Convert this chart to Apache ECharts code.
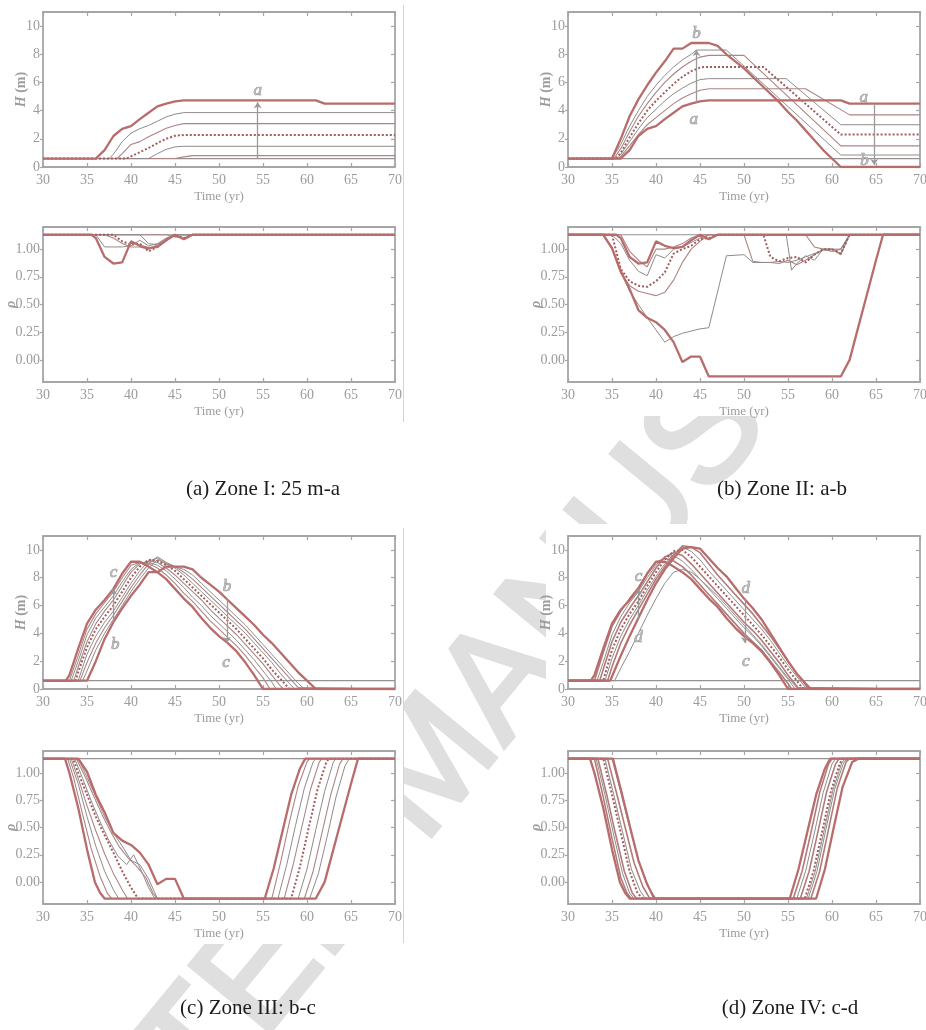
<!DOCTYPE html>
<html>
<head>
<meta charset="utf-8">
<script src="https://cdn.jsdelivr.net/npm/echarts@6/dist/echarts.min.js"></script>
<style>
html,body{margin:0;padding:0;background:#fff;}
#chart{width:926px;height:1030px;}
</style>
</head>
<body>
<div id="chart"></div>
<script>
// ---------- axis ticks ----------
const xTicks = [30, 35, 40, 45, 50, 55, 60, 65, 70];
const hTicks = [0, 2, 4, 6, 8, 10];
const rhoTicks = [0, 0.25, 0.5, 0.75, 1];

// ---------- boundary curves shared by neighbouring zones: [year, value] ----------
const hFlat = [[30,0.6],[70,0.6]];
const hA = [[30,0.6],[36,0.6],[37,1.2],[38,2.2],[39,2.7],[40,2.9],[41,3.4],[42,3.85],[43,4.3],[44,4.5],[45,4.65],[46,4.73],[61,4.73],[62,4.5],[70,4.5]];
const hB = [[30,0.6],[35,0.6],[36,2.0],[37,3.6],[38,4.8],[39,5.8],[40,6.7],[41,7.5],[42,8.4],[43,8.4],[44,8.8],[46,8.8],[47,8.6],[48,8.0],[49,7.5],[50,7.0],[51,6.4],[52,5.8],[53,5.2],[54,4.6],[55,3.9],[56,3.3],[57,2.6],[58,1.9],[59,1.2],[60,0.6],[61,0],[70,0]];
const hC = [[30,0.6],[32.6,0.6],[33,1.0],[34,2.9],[35,4.7],[36,5.7],[37,6.4],[38,7.2],[39,8.3],[40,9.15],[41,9.15],[42,8.8],[43,8.4],[44,7.9],[45,7.2],[46,6.5],[47,5.9],[48,5.1],[49,4.4],[50,3.8],[51,3.3],[52,2.7],[53,1.9],[54,1.0],[55,0],[70,0]];
const hD = [[30,0.6],[34.8,0.6],[35,0.9],[36,2.4],[37,3.8],[38,5.1],[39,6.4],[40,7.6],[41,8.6],[42,9.4],[43,10.1],[44,10.2],[45,10.1],[46,9.4],[47,8.7],[48,8.1],[49,7.3],[50,6.5],[51,5.8],[52,5.0],[53,4.0],[54,3.0],[55,2.0],[56,1.1],[57,0.4],[57.6,0],[70,0]];

const rhoFlat = [[30,1.13],[70,1.13]];
const rhoA = [[30,1.13],[35.5,1.13],[36,1.1],[37,0.93],[38,0.87],[39,0.88],[40,1.07],[41,1.03],[42,1.01],[43,1.02],[44,1.08],[45,1.13],[46,1.09],[47,1.13],[70,1.13]];
const rhoB = [[30,1.13],[34,1.13],[35,1.01],[36,0.8],[37,0.64],[38,0.45],[39,0.38],[40,0.34],[41,0.27],[42,0.16],[43,-0.02],[44,0.03],[45,0.03],[46,-0.15],[61,-0.15],[62,0.0],[63,0.3],[64,0.6],[65,0.9],[65.8,1.13],[70,1.13]];
const rhoC = [[30,1.13],[32.5,1.13],[33,1.0],[34,0.68],[35,0.3],[35.9,0.0],[36.5,-0.1],[37,-0.15],[55.2,-0.15],[56.2,0.12],[57.2,0.46],[58.2,0.8],[59.2,1.04],[59.8,1.13],[70,1.13]];
const rhoD = [[30,1.13],[35.1,1.13],[36,0.85],[37,0.52],[38,0.2],[39,-0.02],[39.8,-0.15],[58.2,-0.15],[59.2,0.12],[60.2,0.5],[61.2,0.87],[62.3,1.1],[63,1.13],[70,1.13]];

// ---------- Zone I: 25 m - a ----------
const zoneI_H = [
  hFlat,
  [[30,0.6],[45,0.6],[46,0.72],[47,0.81],[70,0.81]],
  [[30,0.6],[42,0.6],[43,0.95],[44,1.25],[45,1.43],[46,1.47],[70,1.47]],
  [[30,0.6],[38.4,0.6],[39,0.95],[40,1.6],[41,1.8],[42,2.15],[43,2.45],[44,2.75],[45,2.95],[46,3.08],[70,3.08]],
  [[30,0.6],[37.5,0.6],[38,0.9],[39,1.8],[40,2.4],[41,2.72],[42,2.95],[43,3.25],[44,3.55],[45,3.75],[46,3.86],[70,3.86]],
  [[30,0.6],[39.5,0.6],[40,0.75],[41,1.05],[42,1.35],[43,1.7],[44,2.0],[45,2.22],[46,2.27],[70,2.27]],
  hA
];
const zoneI_Rho = [
  rhoFlat,
  [[30,1.13],[44,1.13],[45,1.11],[46,1.1],[47,1.13],[70,1.13]],
  [[30,1.13],[41,1.13],[42,1.05],[43,1.04],[44,1.08],[45,1.13],[70,1.13]],
  [[30,1.13],[37,1.13],[38,1.1],[39,1.05],[40,1.02],[41,1.02],[42,1.0],[43,1.04],[44,1.09],[45,1.13],[70,1.13]],
  [[30,1.13],[36,1.13],[37,1.02],[38,1.02],[39,1.02],[40,1.03],[41,1.08],[42,1.03],[43,1.05],[44,1.1],[45,1.13],[70,1.13]],
  [[30,1.13],[38,1.13],[39,1.07],[40,1.04],[41,1.05],[42,0.98],[43,1.02],[44,1.08],[45,1.13],[46,1.1],[47,1.13],[70,1.13]],
  rhoA
];

// ---------- Zone II: a - b ----------
const zoneII_H = [
  hFlat,
  [[30,0.6],[35.8,0.6],[36,0.7],[37,1.5],[38,2.3],[39,3.0],[40,3.5],[41,4.0],[42,4.5],[43,4.9],[44,5.2],[45,5.45],[46,5.55],[57,5.55],[62,3.7],[70,3.7]],
  [[30,0.6],[35.6,0.6],[36,0.9],[37,1.8],[38,2.7],[39,3.5],[40,4.1],[41,4.7],[42,5.2],[43,5.6],[44,5.95],[45,6.2],[46,6.27],[54.8,6.27],[61,3.0],[70,3.0]],
  [[30,0.6],[35.2,0.6],[36,1.3],[37,2.5],[38,3.6],[39,4.5],[40,5.3],[41,6.0],[42,6.6],[43,7.1],[44,7.5],[45,7.8],[46,7.92],[50,7.92],[61,1.5],[70,1.5]],
  [[30,0.6],[35,0.6],[36,1.6],[37,2.9],[38,4.0],[39,5.0],[40,5.8],[41,6.5],[42,7.1],[43,7.6],[44,8.0],[44.6,8.3],[48,8.3],[61,0.85],[70,0.85]],
  [[30,0.6],[35.4,0.6],[36,1.0],[37,2.1],[38,3.1],[39,4.0],[40,4.7],[41,5.3],[42,5.9],[43,6.4],[44,6.8],[45,7.05],[45.5,7.1],[52.2,7.1],[61,2.3],[70,2.3]],
  hA,
  hB
];
const zoneII_Rho = [
  rhoFlat,
  [[30,1.13],[36,1.13],[37,0.98],[38,0.9],[39,0.84],[40,1.0],[41,1.0],[42,1.02],[43,1.05],[44,1.1],[45,1.13],[57,1.13],[58,1.02],[59,1.0],[60,0.98],[61,1.0],[62,1.13],[70,1.13]],
  [[30,1.13],[35,1.13],[36,1.05],[37,0.9],[38,0.8],[39,0.76],[40,0.95],[41,0.92],[42,1.0],[43,1.02],[44,1.06],[45,1.1],[46,1.13],[54.8,1.13],[55.4,0.81],[56,0.87],[57,0.94],[58,0.9],[59,1.0],[60,1.0],[61,0.96],[62,1.13],[70,1.13]],
  [[30,1.13],[34,1.13],[35,1.0],[36,0.78],[37,0.67],[38,0.62],[39,0.6],[40,0.58],[41,0.61],[42,0.72],[43,0.88],[44,1.0],[45,1.07],[46,1.13],[50,1.13],[51,0.89],[52,0.88],[53,0.88],[54,0.87],[55,0.9],[56,0.86],[57,0.9],[58,0.95],[59,1.0],[60,1.0],[61,0.95],[62,1.13],[70,1.13]],
  [[30,1.13],[34,1.13],[35,1.02],[36,0.8],[37,0.62],[38,0.5],[39,0.38],[40,0.27],[41,0.16],[42,0.21],[43,0.24],[44,0.26],[45,0.28],[46,0.29],[48,0.94],[50,0.95],[51,0.88],[52,0.88],[53,0.88],[54,0.89],[55,0.88],[56,0.9],[57,0.93],[58,0.96],[59,0.99],[60,1.0],[61,1.0],[62,1.13],[70,1.13]],
  [[30,1.13],[35,1.13],[36,0.82],[37,0.71],[38,0.67],[39,0.66],[40,0.71],[41,0.79],[42,0.96],[43,1.0],[44,1.03],[45,1.09],[46,1.1],[47,1.13],[52.2,1.13],[53,0.93],[54,0.89],[55,0.92],[56,0.93],[57,0.88],[58,0.95],[59,1.0],[60,1.0],[61,0.96],[62,1.13],[70,1.13]],
  rhoA,
  rhoB
];

// ---------- Zone III: b - c ----------
const zoneIII_H = [
  hFlat,
  [[30,0.6],[33,0.6],[34,2.4],[35,4.3],[36,5.4],[37,6.2],[38,7.0],[39,8.0],[40,8.9],[41,9.1],[42,9.0],[43,8.7],[44,8.2],[45,7.6],[46,6.9],[47,6.3],[48,5.6],[49,4.9],[50,4.3],[51,3.7],[52,3.1],[53,2.4],[54,1.6],[55,0.8],[55.8,0],[70,0]],
  [[30,0.6],[33.2,0.6],[34,2.0],[35,3.9],[36,5.1],[37,5.9],[38,6.7],[39,7.7],[40,8.6],[41,9.1],[42,9.1],[43,8.9],[44,8.5],[45,7.9],[46,7.3],[47,6.6],[48,6.0],[49,5.3],[50,4.7],[51,4.1],[52,3.5],[53,2.8],[54,2.1],[55,1.3],[56,0.5],[56.5,0],[70,0]],
  [[30,0.6],[33.5,0.6],[34,1.6],[35,3.4],[36,4.7],[37,5.6],[38,6.4],[39,7.4],[40,8.4],[41,9.0],[42,9.2],[43,9.1],[44,8.7],[45,8.2],[46,7.6],[47,7.0],[48,6.4],[49,5.7],[50,5.1],[51,4.5],[52,3.9],[53,3.2],[54,2.5],[55,1.8],[56,1.0],[57,0.2],[57.3,0],[70,0]],
  [[30,0.6],[34,0.6],[35,2.5],[36,3.8],[37,4.8],[38,5.6],[39,6.6],[40,7.6],[41,8.5],[42,9.2],[43,9.4],[44,9.0],[45,8.7],[46,8.2],[47,7.6],[48,7.0],[49,6.4],[50,5.8],[51,5.2],[52,4.6],[53,4.0],[54,3.3],[55,2.6],[56,1.9],[57,1.1],[58,0.4],[58.6,0],[70,0]],
  [[30,0.6],[34.2,0.6],[35,1.9],[36,3.3],[37,4.4],[38,5.3],[39,6.3],[40,7.3],[41,8.2],[42,9.0],[43,9.5],[44,9.1],[45,8.8],[46,8.4],[47,7.9],[48,7.3],[49,6.7],[50,6.1],[51,5.5],[52,4.9],[53,4.3],[54,3.6],[55,2.9],[56,2.2],[57,1.5],[58,0.8],[59,0.1],[59.2,0],[70,0]],
  [[30,0.6],[34.5,0.6],[35,1.3],[36,2.8],[37,4.0],[38,5.0],[39,6.0],[40,7.0],[41,7.9],[42,8.7],[43,9.3],[44,9.0],[45,8.8],[46,8.6],[47,8.2],[48,7.6],[49,7.0],[50,6.4],[51,5.8],[52,5.2],[53,4.6],[54,3.9],[55,3.2],[56,2.5],[57,1.8],[58,1.1],[59,0.4],[59.7,0],[70,0]],
  [[30,0.6],[33.7,0.6],[34,1.2],[35,3.0],[36,4.3],[37,5.2],[38,6.0],[39,7.0],[40,8.0],[41,8.8],[42,9.3],[43,9.2],[44,8.9],[45,8.5],[46,7.9],[47,7.3],[48,6.7],[49,6.1],[50,5.5],[51,4.9],[52,4.3],[53,3.6],[54,2.9],[55,2.2],[56,1.4],[57,0.7],[58,0],[70,0]],
  hC,
  hB
];
const zoneIII_Rho = [
  rhoFlat,
  [[30,1.13],[32.8,1.13],[33.5,0.95],[34.5,0.62],[35.5,0.3],[36.5,0.05],[37.3,-0.1],[37.8,-0.15],[56.0,-0.15],[57,0.18],[58,0.55],[59,0.88],[60,1.1],[60.3,1.13],[70,1.13]],
  [[30,1.13],[33,1.13],[34,0.9],[35,0.6],[36,0.33],[37,0.1],[38,-0.07],[38.6,-0.15],[56.7,-0.15],[57.7,0.16],[58.7,0.52],[59.7,0.86],[60.7,1.1],[61,1.13],[70,1.13]],
  [[30,1.13],[33.2,1.13],[34,0.95],[35,0.7],[36,0.47],[37,0.26],[38,0.08],[39,-0.07],[39.6,-0.15],[57.4,-0.15],[58.4,0.15],[59.4,0.5],[60.4,0.85],[61.4,1.1],[61.7,1.13],[70,1.13]],
  [[30,1.13],[33.6,1.13],[34.5,0.95],[35.5,0.74],[36.5,0.55],[37.5,0.38],[38.5,0.24],[39.5,0.16],[40.3,0.25],[41.2,0.1],[42,-0.05],[42.7,-0.15],[59,-0.15],[60,0.12],[61,0.48],[62,0.83],[63,1.1],[63.3,1.13],[70,1.13]],
  [[30,1.13],[33.8,1.13],[34.7,0.98],[35.7,0.8],[36.7,0.62],[37.7,0.46],[38.7,0.32],[39.7,0.22],[40.7,0.14],[41.7,0.04],[42.5,-0.1],[43,-0.15],[59.7,-0.15],[60.7,0.1],[61.7,0.45],[62.7,0.8],[63.7,1.08],[64.1,1.13],[70,1.13]],
  [[30,1.13],[34,1.13],[35,0.96],[36,0.78],[37,0.6],[38,0.45],[39,0.33],[40,0.2],[41,0.16],[42,0.03],[43,-0.15],[60.3,-0.15],[61.3,0.08],[62.3,0.42],[63.3,0.78],[64.3,1.06],[64.8,1.13],[70,1.13]],
  [[30,1.13],[33.4,1.13],[34,1.0],[35,0.8],[36,0.6],[37,0.43],[38,0.27],[39,0.1],[40,-0.05],[40.8,-0.15],[58.2,-0.15],[59.2,0.14],[60.2,0.5],[61.2,0.85],[62.2,1.1],[62.5,1.13],[70,1.13]],
  rhoC,
  rhoB
];

// ---------- Zone IV: c - d ----------
const zoneIV_H = [
  hFlat,
  [[30,0.6],[33,0.6],[34,2.6],[35,4.5],[36,5.6],[37,6.5],[38,7.3],[39,8.3],[40,9.1],[41,9.4],[42,9.2],[43,8.8],[44,8.2],[45,7.5],[46,6.8],[47,6.1],[48,5.4],[49,4.7],[50,4.0],[51,3.4],[52,2.8],[53,2.0],[54,1.2],[55,0.4],[55.4,0],[70,0]],
  [[30,0.6],[33.3,0.6],[34,1.9],[35,3.9],[36,5.2],[37,6.2],[38,7.0],[39,8.0],[40,8.9],[41,9.5],[42,9.6],[43,9.2],[44,8.6],[45,7.9],[46,7.2],[47,6.5],[48,5.8],[49,5.1],[50,4.4],[51,3.8],[52,3.1],[53,2.3],[54,1.5],[55,0.7],[55.8,0],[70,0]],
  [[30,0.6],[33.6,0.6],[34,1.4],[35,3.4],[36,4.8],[37,5.8],[38,6.7],[39,7.7],[40,8.7],[41,9.5],[42,9.8],[43,9.6],[44,9.0],[45,8.3],[46,7.6],[47,6.9],[48,6.2],[49,5.5],[50,4.8],[51,4.2],[52,3.5],[53,2.7],[54,1.9],[55,1.0],[56,0.2],[56.2,0],[70,0]],
  [[30,0.6],[34.2,0.6],[35,2.2],[36,3.8],[37,5.0],[38,6.0],[39,7.1],[40,8.1],[41,9.0],[42,9.7],[43,10.2],[44,9.9],[45,9.3],[46,8.5],[47,7.8],[48,7.1],[49,6.4],[50,5.7],[51,5.0],[52,4.3],[53,3.5],[54,2.6],[55,1.7],[56,0.9],[57,0.1],[57.1,0],[70,0]],
  [[30,0.6],[34.5,0.6],[35,1.6],[36,3.3],[37,4.6],[38,5.7],[39,6.8],[40,7.9],[41,8.8],[42,9.6],[43,10.3],[44,10.2],[45,9.8],[46,9.0],[47,8.2],[48,7.5],[49,6.8],[50,6.1],[51,5.4],[52,4.6],[53,3.8],[54,2.9],[55,2.0],[56,1.1],[57,0.3],[57.3,0],[70,0]],
  [[30,0.6],[35.3,0.6],[36,1.5],[37,2.7],[38,4.0],[39,5.3],[40,6.5],[41,7.6],[42,8.4],[43,8.6],[44,8.4],[45,7.9],[46,7.3],[47,6.7],[48,6.0],[49,5.3],[50,4.6],[51,3.9],[52,3.2],[53,2.4],[54,1.6],[55,0.8],[56,0.1],[56.2,0],[70,0]],
  [[30,0.6],[34,0.6],[35,2.8],[36,4.3],[37,5.4],[38,6.3],[39,7.4],[40,8.4],[41,9.3],[42,9.9],[43,10.0],[44,9.5],[45,8.8],[46,8.1],[47,7.4],[48,6.7],[49,6.0],[50,5.3],[51,4.6],[52,3.9],[53,3.1],[54,2.3],[55,1.4],[56,0.6],[56.7,0],[70,0]],
  hC,
  hD
];
const zoneIV_Rho = [
  rhoFlat,
  [[30,1.13],[33,1.13],[34,0.78],[35,0.4],[36,0.04],[36.7,-0.1],[37.2,-0.15],[55.6,-0.15],[56.6,0.1],[57.6,0.45],[58.6,0.82],[59.6,1.08],[60,1.13],[70,1.13]],
  [[30,1.13],[33.2,1.13],[34.2,0.8],[35.2,0.43],[36.2,0.08],[37,-0.1],[37.5,-0.15],[56.0,-0.15],[57,0.1],[58,0.45],[59,0.82],[60,1.08],[60.4,1.13],[70,1.13]],
  [[30,1.13],[33.4,1.13],[34.4,0.8],[35.4,0.44],[36.4,0.1],[37.3,-0.1],[37.8,-0.15],[56.4,-0.15],[57.4,0.1],[58.4,0.46],[59.4,0.83],[60.4,1.08],[60.8,1.13],[70,1.13]],
  [[30,1.13],[34.2,1.13],[35.2,0.8],[36.2,0.46],[37.2,0.12],[38.2,-0.08],[38.8,-0.15],[57.3,-0.15],[58.3,0.1],[59.3,0.48],[60.3,0.85],[61.3,1.09],[61.7,1.13],[70,1.13]],
  [[30,1.13],[34.5,1.13],[35.5,0.82],[36.5,0.5],[37.5,0.18],[38.5,-0.04],[39.3,-0.15],[57.6,-0.15],[58.6,0.1],[59.6,0.48],[60.6,0.86],[61.6,1.1],[62,1.13],[70,1.13]],
  [[30,1.13],[35,1.13],[36,0.82],[37,0.5],[38,0.2],[39,-0.03],[40,-0.15],[57.1,-0.15],[58.1,0.1],[59.1,0.47],[60.1,0.84],[61.1,1.09],[61.5,1.13],[70,1.13]],
  [[30,1.13],[34,1.13],[35,0.8],[36,0.45],[37,0.1],[37.9,-0.1],[38.5,-0.15],[56.9,-0.15],[57.9,0.1],[58.9,0.47],[59.9,0.84],[60.9,1.09],[61.3,1.13],[70,1.13]],
  rhoC,
  rhoD
];

// ---------- annotation segments [x1, y1, x2, y2] and letters [x, y, text] ----------
const zoneI_seg = [[54.4,0.6,54.4,4.6]];
const zoneI_txt = [[54.4,5.45,'a']];
const zoneII_seg = [[44.6,4.6,44.6,8.3],[64.8,4.5,64.8,0.15]];
const zoneII_txt = [[44.6,9.5,'b'],[44.3,3.4,'a'],[63.6,4.95,'a'],[63.7,0.45,'b']];
const zoneIII_seg = [[38,4.8,38,7.2],[50.9,6.5,50.9,3.3]];
const zoneIII_txt = [[38,8.4,'c'],[38.2,3.2,'b'],[50.9,7.4,'b'],[50.8,1.9,'c']];
const zoneIV_seg = [[38,5.0,38,7.2],[50.1,6.5,50.1,3.3]];
const zoneIV_txt = [[38,8.1,'c'],[38,3.7,'d'],[50.2,7.2,'d'],[50.2,2.0,'c']];

const captions = ['(a) Zone I: 25 m-a', '(b) Zone II: a-b', '(c) Zone III: b-c', '(d) Zone IV: c-d'];

// ---------- styling ----------
const SERIF = "'Liberation Serif','Times New Roman',serif";
const AX = '#a6a6a6';
const LB = '#9c9c9c';
const STY = {
  grey:  {color:'#979191', width:1.2},
  thin:  {color:'#ad8585', width:1.1},
  thinG: {color:'#8f8b8b', width:1},
  mid:   {color:'#b37a7a', width:1.6},
  dot:   {color:'#a35c5c', width:2, type:'dotted'},
  thick: {color:'#b86c6c', width:2.3}
};
const kinds7 = ['grey','thin','thinG','thin','thinG','dot','thick'];
const kinds8 = ['grey','thin','thinG','thin','thinG','dot','thick','thick'];
const kinds10 = ['grey','thin','thinG','thin','thinG','thin','thinG','dot','thick','thick'];
const kinds10d = ['grey','mid','thinG','mid','thinG','mid','thinG','dot','thick','thick'];

// panel boxes in pixels
const boxes = [
  {left:43,  top:12,  width:352, height:155, kind:'H'},
  {left:43,  top:227, width:352, height:155, kind:'R'},
  {left:568, top:12,  width:352, height:155, kind:'H'},
  {left:568, top:227, width:352, height:155, kind:'R'},
  {left:43,  top:536, width:352, height:153, kind:'H'},
  {left:43,  top:751, width:352, height:153, kind:'R'},
  {left:568, top:536, width:352, height:153, kind:'H'},
  {left:568, top:751, width:352, height:153, kind:'R'}
];
const panelLines = [zoneI_H, zoneI_Rho, zoneII_H, zoneII_Rho, zoneIII_H, zoneIII_Rho, zoneIV_H, zoneIV_Rho];
const panelKinds = [kinds7, kinds7, kinds8, kinds8, kinds10, kinds10, kinds10d, kinds10d];
const panelSeg = {0:zoneI_seg, 2:zoneII_seg, 4:zoneIII_seg, 6:zoneIV_seg};
const panelTxt = {0:zoneI_txt, 2:zoneII_txt, 4:zoneIII_txt, 6:zoneIV_txt};

const grid = [], xAxis = [], yAxis = [], series = [];

boxes.forEach(function (b, i) {
  const isH = b.kind === 'H';
  grid.push({left:b.left, top:b.top, width:b.width, height:b.height, containLabel:false, outerBoundsMode:'none'});
  const line = {show:true, onZero:false, lineStyle:{color:AX, width:1.8}};
  const tick = {show:true, inside:true, length:4, lineStyle:{color:AX, width:1.2}};
  xAxis.push({
    gridIndex:i, type:'value', min:30, max:70, interval:5, position:'bottom',
    axisLine:line, axisTick:tick, splitLine:{show:false},
    axisLabel:{show:true, color:LB, fontFamily:SERIF, fontSize:14, margin:6, customValues:xTicks},
    name:'Time (yr)', nameLocation:'middle', nameGap:23, nameMoveOverlap:false,
    nameTextStyle:{color:LB, fontFamily:SERIF, fontSize:13}
  });
  xAxis.push({
    gridIndex:i, type:'value', min:30, max:70, interval:5, position:'top',
    axisLine:line, axisTick:tick, splitLine:{show:false}, axisLabel:{show:false}
  });
  const yt = isH ? hTicks : rhoTicks;
  yAxis.push({
    gridIndex:i, type:'value', min:isH ? 0 : -0.2, max:isH ? 11 : 1.2, position:'left',
    axisLine:line, splitLine:{show:false},
    axisTick:{show:true, inside:false, length:3, customValues:yt, lineStyle:{color:AX, width:1.2}},
    axisLabel:{show:true, color:LB, fontFamily:SERIF, fontSize:14, margin:3, customValues:yt,
      formatter:function (v) { return isH ? String(v) : v.toFixed(2); }},
    name:isH ? '{it|H} (m)' : '{it|\u03c1}', nameLocation:'middle', nameGap:isH ? 15 : 25, nameRotate:90,
    nameMoveOverlap:false,
    nameTextStyle:{color:LB, fontFamily:SERIF, fontSize:14, fontWeight:'bold',
      rich:{it:{fontStyle:'italic', fontFamily:SERIF, fontSize:14, fontWeight:'bold', color:LB}}}
  });
  yAxis.push({
    gridIndex:i, type:'value', min:isH ? 0 : -0.2, max:isH ? 11 : 1.2, position:'right',
    axisLine:line, splitLine:{show:false}, axisLabel:{show:false},
    axisTick:{show:true, inside:true, length:4, customValues:yt, lineStyle:{color:AX, width:1.2}}
  });

  panelLines[i].forEach(function (data, k) {
    const s = STY[panelKinds[i][k]];
    series.push({
      type:'line', xAxisIndex:2 * i, yAxisIndex:2 * i, data:data,
      symbol:'none', showSymbol:false, silent:true, animation:false,
      z:2 + (s.width > 1.5 ? 1 : 0),
      lineStyle:{color:s.color, width:s.width, type:s.type || 'solid'}
    });
  });

  if (panelTxt[i]) {
    series.push({
      type:'scatter', xAxisIndex:2 * i, yAxisIndex:2 * i, silent:true, animation:false, z:5,
      symbolSize:0, itemStyle:{color:'rgba(0,0,0,0)'},
      data:panelTxt[i].map(function (t) { return {value:[t[0], t[1]], name:t[2]}; }),
      label:{show:true, position:'inside', formatter:function (p) { return p.name; },
        fontFamily:SERIF, fontStyle:'italic', fontSize:17, color:'#b9b9b9',
        textBorderColor:'#8c8c8c', textBorderWidth:0.7, opacity:1},
      labelLayout:{hideOverlap:false},
      markLine:{
        silent:true, animation:false, symbol:['none','arrow'], symbolSize:6, label:{show:false},
        lineStyle:{color:'#9a9a9a', width:1.3, type:'solid'},
        data:panelSeg[i].map(function (g) { return [{coord:[g[0], g[1]]}, {coord:[g[2], g[3]]}]; })
      }
    });
  }
});

// figure sheet: watermark, white image backgrounds, separators, captions
const graphic = [
  {type:'text', x:434, y:767, rotation:50.5 * Math.PI / 180, z:-20, silent:true,
   style:{text:'ACCEPTED MANUSCRIPT', fontSize:152, fontFamily:"'Liberation Sans',Arial,sans-serif",
     fill:'#dfdfdf', stroke:'#dfdfdf', lineWidth:4, textAlign:'center', textVerticalAlign:'middle'}},
  {type:'rect', z:-10, silent:true, shape:{x:0, y:0, width:404, height:424}, style:{fill:'#fff'}},
  {type:'rect', z:-10, silent:true, shape:{x:546, y:0, width:380, height:416}, style:{fill:'#fff'}},
  {type:'rect', z:-10, silent:true, shape:{x:0, y:526, width:404, height:418}, style:{fill:'#fff'}},
  {type:'rect', z:-10, silent:true, shape:{x:546, y:524, width:380, height:414}, style:{fill:'#fff'}},
  {type:'line', z:-5, silent:true, shape:{x1:403.5, y1:5, x2:403.5, y2:422}, style:{stroke:'#d4d4d4', lineWidth:1}},
  {type:'line', z:-5, silent:true, shape:{x1:403.5, y1:528, x2:403.5, y2:943}, style:{stroke:'#d4d4d4', lineWidth:1}}
];
const capPos = [[263,489],[782,489],[248,1008],[790,1008]];
captions.forEach(function (c, i) {
  graphic.push({type:'text', x:capPos[i][0], y:capPos[i][1], z:10, silent:true,
    style:{text:c, fontSize:21, fontFamily:SERIF, fill:'#1c1c1c', textAlign:'center', textVerticalAlign:'middle'}});
});

const chart = echarts.init(document.getElementById('chart'), null, {renderer:'canvas'});
chart.setOption({
  backgroundColor:'#fff',
  animation:false,
  grid:grid, xAxis:xAxis, yAxis:yAxis, series:series, graphic:graphic
});
</script>
</body>
</html>
